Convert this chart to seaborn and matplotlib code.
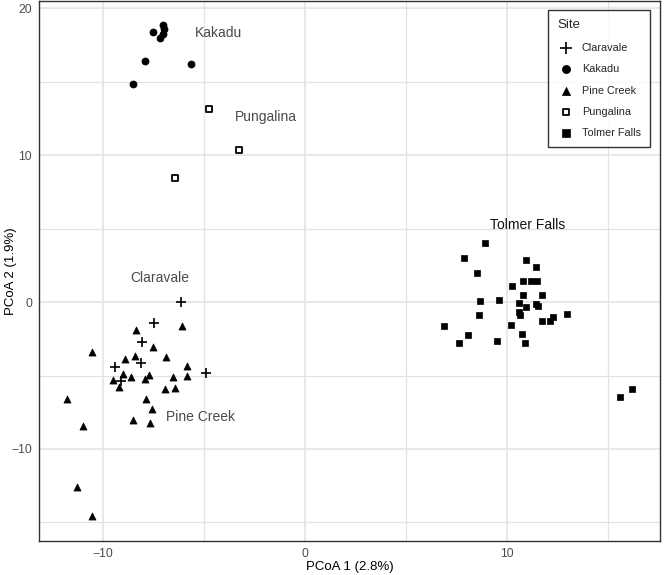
import numpy as np
import pandas as pd
import matplotlib
matplotlib.use('Agg')
import matplotlib.pyplot as plt
import seaborn as sns

sns.set_style('white')
plt.rcParams['font.family'] = ['Liberation Sans', 'DejaVu Sans']

# PCoA coordinates, per site
claravale_x = [-6.14, -7.49, -8.05, -8.13, -9.40, -9.10, -4.89]
claravale_y = [-0.02, -1.45, -2.70, -4.12, -4.42, -5.37, -4.80]

kakadu_x = [-7.05, -7.00, -7.52, -7.03, -7.20, -7.94, -5.66, -8.51]
kakadu_y = [18.87, 18.60, 18.34, 18.25, 17.96, 16.37, 16.19, 14.86]

pine_x = [-8.38, -6.07, -10.55, -7.52, -8.90, -8.41, -6.86, -5.84, -8.99, -8.61,
          -9.50, -7.72, -7.92, -6.53, -5.83, -9.20, -6.91, -6.43, -7.89, -7.60,
          -11.79, -11.01, -8.51, -7.67, -11.27, -10.53]
pine_y = [-1.90, -1.63, -3.40, -3.04, -3.87, -3.69, -3.74, -4.35, -4.91, -5.07,
          -5.30, -4.96, -5.25, -5.07, -5.01, -5.75, -5.91, -5.86, -6.57, -7.27,
          -6.59, -8.42, -8.06, -8.20, -12.59, -14.54]

pungalina_x = [-4.74, -3.29, -6.45]
pungalina_y = [13.16, 10.37, 8.47]

tolmer_x = [8.90, 7.89, 10.96, 11.44, 8.51, 10.78, 11.19, 11.49, 10.24, 10.80,
            11.75, 8.68, 9.58, 10.58, 11.42, 11.54, 10.96, 10.58, 10.65, 12.97,
            12.26, 12.11, 11.74, 8.63, 6.86, 10.17, 8.08, 10.75, 7.60, 9.50,
            10.88, 15.57, 16.20]
tolmer_y = [4.01, 2.99, 2.83, 2.38, 1.99, 1.45, 1.45, 1.45, 1.11, 0.48,
            0.46, 0.09, 0.16, -0.09, -0.14, -0.27, -0.36, -0.66, -0.86, -0.82,
            -1.02, -1.31, -1.27, -0.90, -1.63, -1.56, -2.22, -2.17, -2.81, -2.67,
            -2.81, -6.45, -5.91]

sites = ['Claravale', 'Kakadu', 'Pine Creek', 'Pungalina', 'Tolmer Falls']
label_x = [-7.2, -4.3, -5.2, -1.95, 11.0]
label_y = [1.6, 18.3, -7.8, 12.6, 5.25]

df = pd.concat([
    pd.DataFrame({'x': claravale_x, 'y': claravale_y, 'Site': 'Claravale'}),
    pd.DataFrame({'x': kakadu_x, 'y': kakadu_y, 'Site': 'Kakadu'}),
    pd.DataFrame({'x': pine_x, 'y': pine_y, 'Site': 'Pine Creek'}),
    pd.DataFrame({'x': pungalina_x, 'y': pungalina_y, 'Site': 'Pungalina'}),
    pd.DataFrame({'x': tolmer_x, 'y': tolmer_y, 'Site': 'Tolmer Falls'}),
], ignore_index=True)

# marker style per site (ggplot-like shapes)
styles = {
    'Claravale': dict(marker='+', s=55, color='black', linewidth=1.2),
    'Kakadu': dict(marker='o', s=26, color='black', edgecolor='black', linewidth=0.5),
    'Pine Creek': dict(marker='^', s=26, color='black', edgecolor='black', linewidth=0.5),
    'Pungalina': dict(marker='s', s=16, facecolor='white', edgecolor='black', linewidth=1.3),
    'Tolmer Falls': dict(marker='s', s=22, color='black', edgecolor='black', linewidth=0.5),
}

fig = plt.figure(figsize=(6.64, 5.75), dpi=100)
ax = fig.add_axes([39/664, 34/575, 621/664, 540/575])

for site in sites:
    sub = df[df['Site'] == site]
    sns.scatterplot(data=sub, x='x', y='y', ax=ax, label=site, zorder=3, **styles[site])

for site, tx, ty in zip(sites, label_x, label_y):
    col = '#111111' if site == 'Tolmer Falls' else '#4a4a4a'
    ax.text(tx, ty, site, ha='center', va='center', fontsize=10, color=col, zorder=4)

ax.set_xlim(-13.17, 17.57)
ax.set_ylim(-16.26, 20.48)
ax.set_xticks([-10, 0, 10])
ax.set_yticks([-10, 0, 10, 20])
ax.set_xticks([-5, 5, 15], minor=True)
ax.set_yticks([-15, -5, 5, 15], minor=True)
ax.grid(True, which='major', color='#e2e2e2', linewidth=1.1, zorder=0)
ax.grid(True, which='minor', color='#e2e2e2', linewidth=0.9, zorder=0)
ax.set_axisbelow(True)
ax.tick_params(axis='both', which='major', length=3, width=0.8, color='#333333',
               labelsize=8.8, labelcolor='#4d4d4d', pad=2)
ax.tick_params(axis='both', which='minor', length=0)
for sp in ax.spines.values():
    sp.set_color('#333333')
    sp.set_linewidth(1.0)

ax.set_xlabel('PCoA 1 (2.8%)', fontsize=9.5, color='black')
ax.set_ylabel('PCoA 2 (1.9%)', fontsize=9.5, color='black')
ax.xaxis.set_label_coords(0.5, -0.037)
ax.yaxis.set_label_coords(-0.036, 0.5)

leg = ax.legend(title='Site', loc='upper right', bbox_to_anchor=(0.984, 0.983),
                borderaxespad=0, fontsize=7.8, title_fontsize=9.5, frameon=True,
                fancybox=False, borderpad=0.85, labelspacing=1.05, handletextpad=0.75,
                handlelength=1.5, markerscale=1.15)
leg._legend_box.align = 'left'
leg.get_frame().set_edgecolor('black')
leg.get_frame().set_linewidth(1.0)

fig.savefig('out.png', dpi=100)
